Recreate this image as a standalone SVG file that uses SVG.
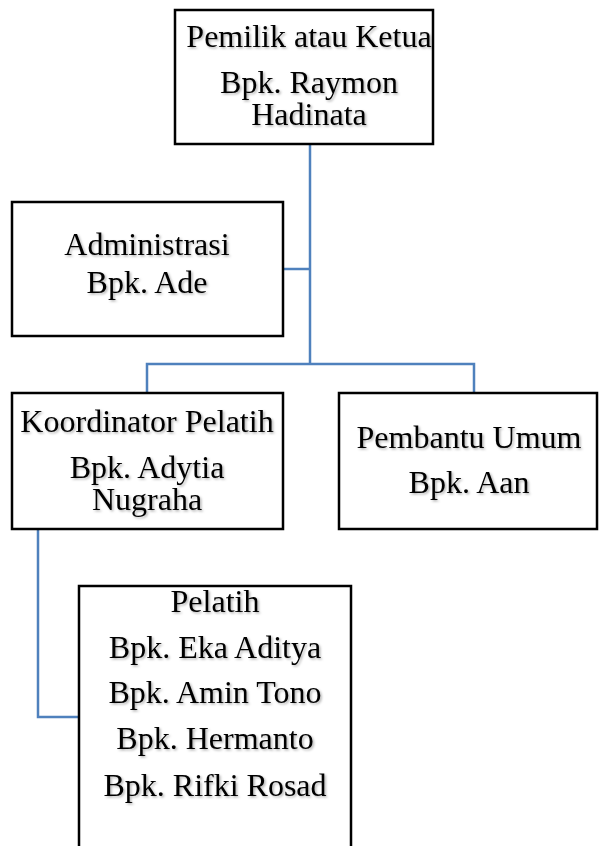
<svg xmlns="http://www.w3.org/2000/svg" width="599" height="846" viewBox="0 0 599 846">
<style>
.box{fill:#fff;stroke:#000;stroke-width:2.5}
.t{font-family:"Liberation Serif","Times New Roman",serif;font-size:32px;fill:#000;text-anchor:middle;filter:url(#sh)}
.c{fill:none;stroke:#4f81bd;stroke-width:2.5}
</style>
<defs>
<filter id="sh" x="-10%" y="-30%" width="130%" height="160%">
<feDropShadow dx="1.5" dy="1.5" stdDeviation="1" flood-color="#000" flood-opacity="0.3"/>
</filter>
</defs>
<rect width="599" height="846" fill="#fff"/>
<g id="connectors">
<path class="c" d="M310,144 V364"/>
<path class="c" d="M283,269 H310"/>
<path class="c" d="M147,393 V364 H474 V393"/>
<path class="c" d="M38,529 V717 H78"/>
</g>
<g id="ketua">
<rect class="box" x="175" y="10" width="258" height="134"/>
<text class="t" x="309" y="47">Pemilik atau Ketua</text>
<text class="t" x="309" y="93">Bpk. Raymon</text>
<text class="t" x="309" y="125">Hadinata</text>
</g>
<g id="administrasi">
<rect class="box" x="12" y="202" width="271" height="134"/>
<text class="t" x="147" y="255">Administrasi</text>
<text class="t" x="147" y="293">Bpk. Ade</text>
</g>
<g id="koordinator">
<rect class="box" x="12" y="393" width="271" height="136"/>
<text class="t" x="147" y="432">Koordinator Pelatih</text>
<text class="t" x="147" y="478">Bpk. Adytia</text>
<text class="t" x="147" y="510">Nugraha</text>
</g>
<g id="pembantu">
<rect class="box" x="339" y="393" width="258" height="136"/>
<text class="t" x="469" y="448">Pembantu Umum</text>
<text class="t" x="469" y="493">Bpk. Aan</text>
</g>
<g id="pelatih">
<rect class="box" x="79" y="586" width="272" height="270"/>
<text class="t" x="215" y="612">Pelatih</text>
<text class="t" x="215" y="658">Bpk. Eka Aditya</text>
<text class="t" x="215" y="703">Bpk. Amin Tono</text>
<text class="t" x="215" y="749">Bpk. Hermanto</text>
<text class="t" x="215" y="796">Bpk. Rifki Rosad</text>
</g>
</svg>
